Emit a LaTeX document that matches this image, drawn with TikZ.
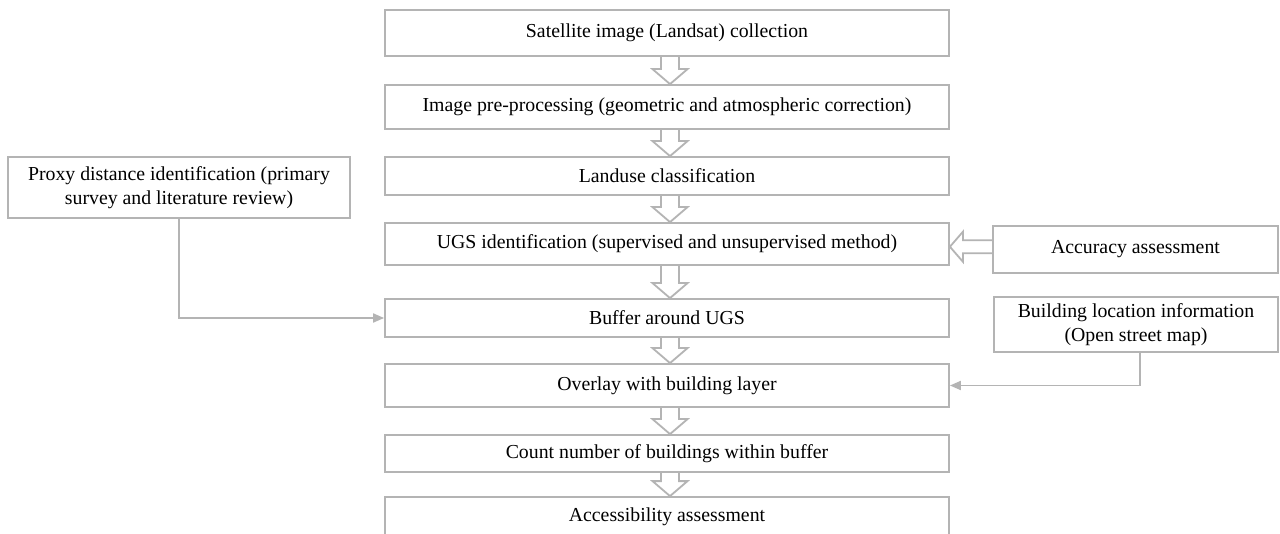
\documentclass[tikz,border=0pt]{standalone}
\usepackage{fontspec}
\setmainfont{Liberation Serif}
\usetikzlibrary{arrows.meta,calc}
\definecolor{linegray}{HTML}{B4B4B4}
\tikzset{
  box/.style={draw=linegray,line width=1.8pt,minimum width=564pt,align=center,inner sep=0pt,
    font=\fontsize{19.8}{24}\selectfont,text=black},
  hollow/.style={draw=linegray,line width=1.8pt,line join=miter},
  conn/.style={draw=linegray,line width=1.8pt,-{Triangle[length=11pt,width=9pt]}}
}
\begin{document}
\begin{tikzpicture}[x=1pt,y=-1pt]
\fill[white,use as bounding box] (0,0) rectangle (1280,534);
\node[box,minimum height=46pt] (b1) at (667,33) {Satellite image (Landsat) collection};
\node[box,minimum height=44pt] (b2) at (667,107) {Image pre-processing (geometric and atmospheric correction)};
\node[box,minimum height=38pt] (b3) at (667,176) {Landuse classification};
\node[box,minimum height=42pt] (b4) at (667,244) {UGS identification (supervised and unsupervised method)};
\node[box,minimum height=38pt] (b5) at (667,318) {Buffer around UGS};
\node[box,minimum height=43pt] (b6) at (667,385.5) {Overlay with building layer};
\node[box,minimum height=37pt] (b7) at (667,453.5) {Count number of buildings within buffer};
\node[box,minimum height=40pt] (b8) at (667,517) {Accessibility assessment};
\node[box,minimum width=342pt,minimum height=61pt] (proxy) at (179,187.5) {Proxy distance identification (primary\\survey and literature review)};
\node[box,minimum width=285pt,minimum height=47pt] (acc) at (1135.5,249.5) {Accuracy assessment};
\node[box,minimum width=284pt,minimum height=55pt] (bld) at (1136,324.5) {Building location information\\(Open street map)};
\foreach \a/\b in {b1/b2,b2/b3,b3/b4,b4/b5,b5/b6,b6/b7,b7/b8}{
  \path[hollow] let \p1=($(\a.south)+(3,0)$), \p2=($(\b.north)+(3,0)$) in
    (\x1-9pt,\y1) -- (\x1-9pt,\y2+15pt) -- (\x1-17.5pt,\y2+15pt) -- (\x1,\y2)
    -- (\x1+17.5pt,\y2+15pt) -- (\x1+9pt,\y2+15pt) -- (\x1+9pt,\y1);
}
\path[hollow] let \p1=(acc.west), \p2=(b4.east), \p3=($(acc.west)!0.5!(b4.east)$) in
  (\x1,\y3+6.5pt) -- (\x2+13pt,\y3+6.5pt) -- (\x2+13pt,\y3+15pt) -- (\x2,\y3)
  -- (\x2+13pt,\y3-15pt) -- (\x2+13pt,\y3-6.5pt) -- (\x1,\y3-6.5pt);
\draw[conn] (proxy.south) |- (b5.west);
\draw[conn] ($(bld.south)+(4,0)$) |- (b6.east);
\end{tikzpicture}
\end{document}
